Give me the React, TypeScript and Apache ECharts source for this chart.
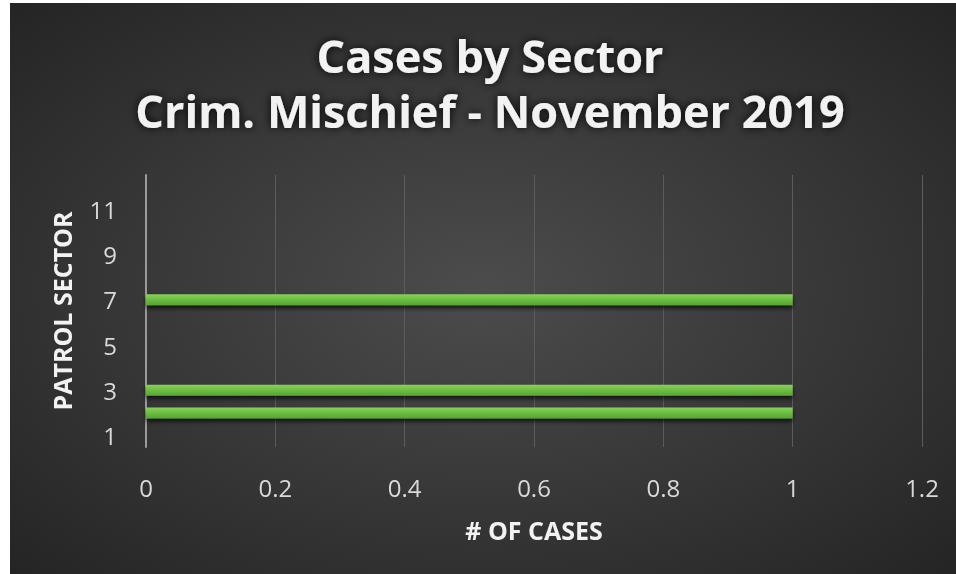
import React, { useEffect, useRef } from "react";
import * as echarts from "echarts";

const sectors = ["1", "2", "3", "4", "5", "6", "7", "8", "9", "10", "11", "12"];
const cases = [null, 1, 1, null, null, null, 1, null, null, null, null, null];
const titleLines = ["Cases by Sector", "Crim. Mischief - November 2019"];
const xAxisName = "# OF CASES";
const yAxisName = "PATROL SECTOR";

const FONT = "'Open Sans', Lato, sans-serif";

export default function App() {
  const ref = useRef<HTMLDivElement>(null);
  useEffect(() => {
    if (!ref.current) return;
    const chart = echarts.init(ref.current, undefined, { renderer: "svg" });
    chart.setOption({
      animation: false,
      backgroundColor: {
        type: "radial",
        x: 0.5,
        y: 0.5,
        r: 0.75,
        colorStops: [
          { offset: 0, color: "#4c4c4c" },
          { offset: 1, color: "#222222" },
        ],
      },
      graphic: titleLines.map((t, i) => ({
        type: "text",
        x: 480,
        y: i === 0 ? 52 : 107,
        style: {
          text: t,
          fill: "#f2f2f2",
          font: `bold 45px ${FONT}`,
          align: "center",
          verticalAlign: "middle",
          textShadowColor: "rgba(0,0,0,0.95)",
          textShadowBlur: 10,
        },
      })),
      grid: { left: 136, right: 34, top: 172, bottom: 127, containLabel: false },
      xAxis: {
        type: "value",
        min: 0,
        max: 1.2,
        interval: 0.2,
        name: xAxisName,
        nameLocation: "middle",
        nameGap: 70,
        nameTextStyle: { color: "#f2f2f2", fontSize: 25, fontWeight: "bold", fontFamily: FONT },
        axisLine: { show: false },
        axisTick: { show: false },
        axisLabel: {
          color: "#d9d9d9",
          fontSize: 24,
          fontFamily: FONT,
          margin: 28,
          formatter: (v: number) => String(Math.round(v * 10) / 10),
        },
        splitLine: { show: true, lineStyle: { color: "#5c5c5c", width: 1 } },
      },
      yAxis: {
        type: "category",
        data: sectors,
        name: yAxisName,
        nameLocation: "middle",
        nameGap: 72,
        nameTextStyle: { color: "#f2f2f2", fontSize: 25, fontWeight: "bold", fontFamily: FONT },
        axisLine: { show: true, lineStyle: { color: "#9a9a9a", width: 2 } },
        axisTick: { show: false },
        axisLabel: { color: "#d9d9d9", fontSize: 24, fontFamily: FONT, margin: 29, interval: 1 },
        splitLine: { show: false },
      },
      series: [
        {
          type: "bar",
          data: cases,
          barWidth: 11,
          itemStyle: {
            color: {
              type: "linear",
              x: 0,
              y: 0,
              x2: 0,
              y2: 1,
              colorStops: [
                { offset: 0, color: "#86d35a" },
                { offset: 0.5, color: "#6cbd42" },
                { offset: 1, color: "#57a332" },
              ],
            },
            shadowColor: "rgba(0,0,0,0.7)",
            shadowBlur: 4,
            shadowOffsetY: 3,
          },
        },
      ],
    });
    return () => chart.dispose();
  }, []);
  return (
    <div
      ref={ref}
      style={{ position: "fixed", left: 10, top: 3, width: 946, height: 571 }}
    />
  );
}
